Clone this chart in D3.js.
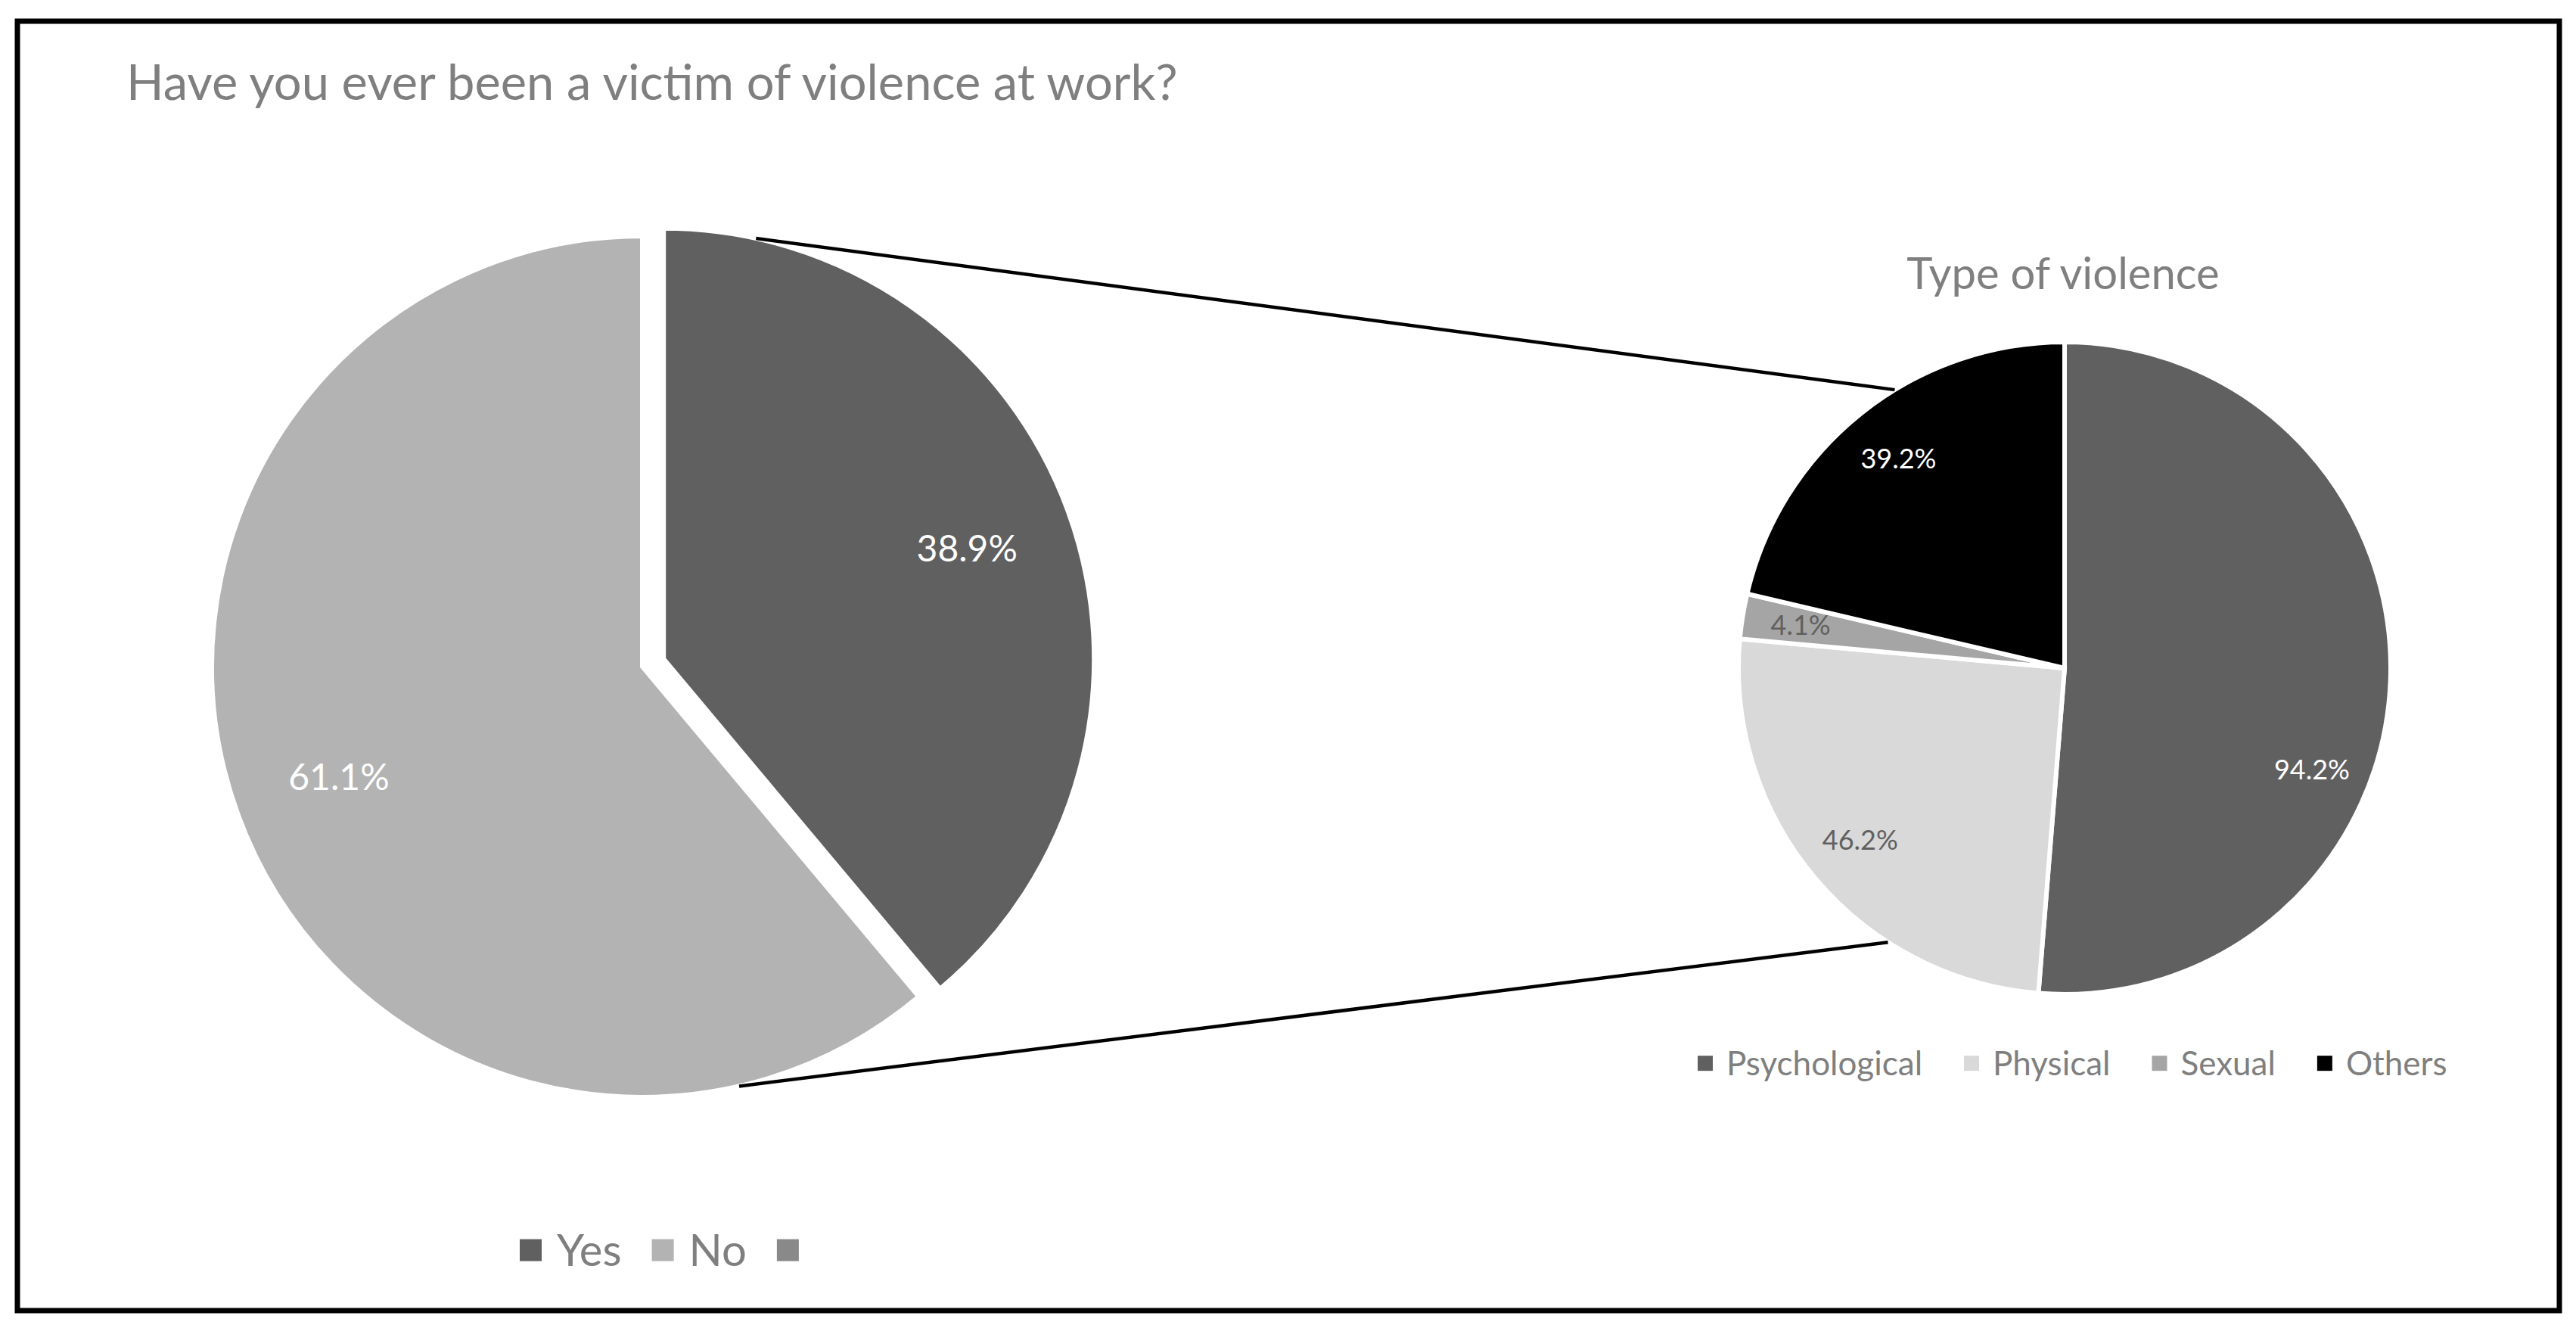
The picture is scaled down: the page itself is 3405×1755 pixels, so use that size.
<!DOCTYPE html>
<html>
<head>
<meta charset="utf-8">
<script src="https://cdn.jsdelivr.net/npm/d3@7"></script>
<style>
  body { margin: 0; background: #fff; }
  text { font-family: Lato, "Open Sans", sans-serif; }
</style>
</head>
<body>
<script>
// main question
var yesNoLabels = ["Yes", "No", ""];
var yesNoValues = [38.9, 61.1, 0];

// breakdown of the "Yes" answers
var typeLabels = ["Psychological", "Physical", "Sexual", "Others"];
var typeValues = [94.2, 46.2, 4.1, 39.2];

var width = 3405, height = 1755;
var grey = "#7f7f7f";

var svg = d3.select("body").append("svg")
    .attr("width", width)
    .attr("height", height);

var mainColor = d3.scaleOrdinal().domain(yesNoLabels).range(["#606060", "#b3b3b3", "#898989"]);
var typeColor = d3.scaleOrdinal().domain(typeLabels).range(["#606060", "#d9d9d9", "#a5a5a5", "#000000"]);
var typeText = d3.scaleOrdinal().domain(typeLabels).range(["#ffffff", "#606060", "#606060", "#ffffff"]);
var fmt = function (v) { return d3.format(".1f")(v) + "%"; };

// frame
svg.append("rect")
    .attr("x", 23).attr("y", 28)
    .attr("width", 3360).attr("height", 1704)
    .attr("fill", "none").attr("stroke", "#000").attr("stroke-width", 7);

svg.append("text")
    .attr("x", 167).attr("y", 132)
    .attr("fill", grey).attr("font-size", 65)
    .text("Have you ever been a victim of violence at work?");

var pie = d3.pie().sort(null).value(function (d) { return d; });

function onCircle(cx, cy, r, deg) {
    var a = deg * Math.PI / 180;
    return [cx + r * Math.sin(a), cy - r * Math.cos(a)];
}

// ---- left pie
var cxL = 849, cyL = 881, rL = 569, explode = 30;
var arcL = d3.arc().innerRadius(0).outerRadius(rL);
var labelArcL = d3.arc().innerRadius(rL * 0.75).outerRadius(rL * 0.75);

var slicesL = pie(yesNoValues).map(function (d, i) {
    d.label = yesNoLabels[i];
    var mid = (d.startAngle + d.endAngle) / 2;
    var off = i === 0 ? explode : 0;
    d.dx = Math.sin(mid) * off;
    d.dy = -Math.cos(mid) * off;
    return d;
}).filter(function (d) { return d.value > 0; });

var gL = svg.append("g").attr("transform", "translate(" + cxL + "," + cyL + ")");

gL.selectAll("path").data(slicesL).enter().append("path")
    .attr("d", arcL)
    .attr("transform", function (d) { return "translate(" + d.dx + "," + d.dy + ")"; })
    .attr("fill", function (d) { return mainColor(d.label); })
    .attr("stroke", "#fff").attr("stroke-width", 6);

gL.selectAll("text").data(slicesL).enter().append("text")
    .attr("transform", function (d) {
        var c = labelArcL.centroid(d);
        return "translate(" + (c[0] + d.dx) + "," + (c[1] + d.dy) + ")";
    })
    .attr("text-anchor", "middle").attr("dy", "0.35em")
    .attr("font-size", 48).attr("fill", "#fff")
    .text(function (d) { return fmt(d.value); });

// ---- right pie
var cxR = 2729, cyR = 883, rR = 431;
var arcR = d3.arc().innerRadius(0).outerRadius(rR);
var labelR = rR * 0.82;
// Excel's best-fit pushes the big slice's label down a bit
var labelTurn = { Psychological: 20 };

var slicesR = pie(typeValues).map(function (d, i) { d.label = typeLabels[i]; return d; });

var gR = svg.append("g").attr("transform", "translate(" + cxR + "," + cyR + ")");

gR.selectAll("path").data(slicesR).enter().append("path")
    .attr("d", arcR)
    .attr("fill", function (d) { return typeColor(d.label); })
    .attr("stroke", "#fff").attr("stroke-width", 6);

gR.selectAll("text").data(slicesR).enter().append("text")
    .attr("transform", function (d) {
        var deg = (d.startAngle + d.endAngle) / 2 * 180 / Math.PI + (labelTurn[d.label] || 0);
        return "translate(" + onCircle(0, 0, labelR, deg) + ")";
    })
    .attr("text-anchor", "middle").attr("dy", "0.35em")
    .attr("font-size", 36)
    .attr("fill", function (d) { return typeText(d.label); })
    .text(function (d) { return fmt(d.value); });

svg.append("text")
    .attr("x", 2727).attr("y", 382)
    .attr("text-anchor", "middle")
    .attr("fill", grey).attr("font-size", 58)
    .text("Type of violence");

// ---- connector lines
var yes = slicesL[0];
var top1 = onCircle(cxL + yes.dx, cyL + yes.dy, rL, 12.4),
    top2 = onCircle(cxR, cyR, rR, 328.6),
    bot1 = onCircle(cxL, cyL, rL, 167),
    bot2 = onCircle(cxR, cyR, rR, 212.8);

svg.selectAll("line.conn").data([[top1, top2], [bot1, bot2]]).enter().append("line")
    .attr("class", "conn")
    .attr("x1", function (d) { return d[0][0]; }).attr("y1", function (d) { return d[0][1]; })
    .attr("x2", function (d) { return d[1][0]; }).attr("y2", function (d) { return d[1][1]; })
    .attr("stroke", "#000").attr("stroke-width", 4.5);

// ---- legends
function legend(labels, color, startX, baseY, box, fontSize, gapText, gapItem) {
    var g = svg.append("g").attr("transform", "translate(" + startX + ",0)");
    var items = g.selectAll("g").data(labels).enter().append("g");
    items.append("rect")
        .attr("width", box).attr("height", box)
        .attr("y", baseY - fontSize * 0.36 - box / 2)
        .attr("fill", function (d) { return color(d); });
    items.append("text")
        .attr("y", baseY)
        .attr("font-size", fontSize).attr("fill", grey)
        .text(function (d) { return d; });
    var x = 0;
    items.each(function () {
        var it = d3.select(this);
        var w = it.select("text").node().getComputedTextLength();
        it.select("rect").attr("x", x);
        it.select("text").attr("x", x + box + gapText);
        x += box + gapText + w + gapItem;
    });
}

legend(yesNoLabels, mainColor, 687, 1673, 29, 58, 20, 40);
legend(typeLabels, typeColor, 2244, 1421, 20, 44, 18, 55);
</script>
</body>
</html>
